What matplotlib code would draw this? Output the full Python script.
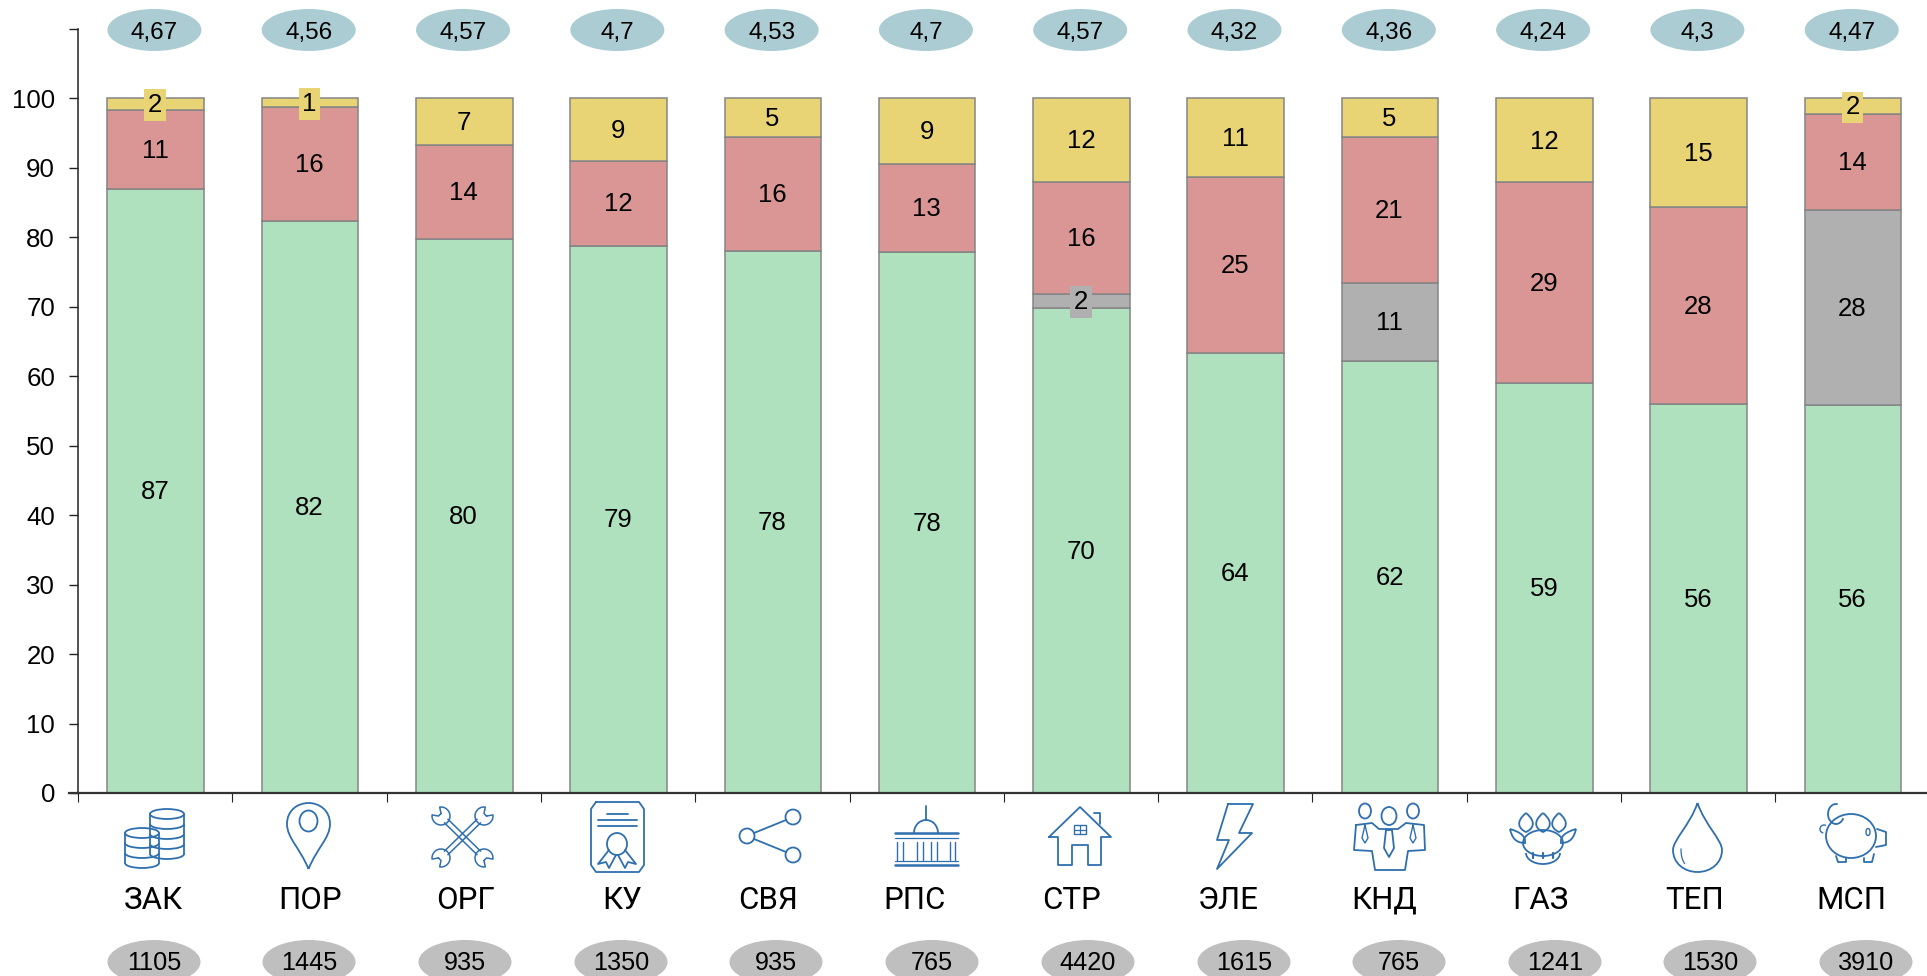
import numpy as np
import matplotlib
matplotlib.use("Agg")
import matplotlib.pyplot as plt
from matplotlib.patches import Ellipse, PathPatch, Polygon, Arc
from matplotlib.path import Path

plt.rcParams['font.family'] = ['Liberation Sans', 'DejaVu Sans']

# -----------------------------
# Data
# -----------------------------
categories = ["ЗАК", "ПОР", "ОРГ", "КУ", "СВЯ", "РПС", "СТР", "ЭЛЕ", "КНД", "ГАЗ", "ТЕП", "МСП"]

green = [86.9, 82.3, 79.8, 78.8, 78.1, 77.9, 69.8, 63.4, 62.2, 59.0, 56.0, 55.8]
gray = [0, 0, 0, 0, 0, 0, 2.1, 0, 11.3, 0, 0, 28.1]
red = [11.5, 16.4, 13.5, 12.2, 16.4, 12.7, 16.1, 25.3, 21.0, 28.9, 28.3, 13.9]
yellow = [1.6, 1.3, 6.7, 9.0, 5.5, 9.4, 12.0, 11.3, 5.5, 12.1, 15.7, 2.2]

green_labels = [87, 82, 80, 79, 78, 78, 70, 64, 62, 59, 56, 56]
gray_labels = [0, 0, 0, 0, 0, 0, 2, 0, 11, 0, 0, 28]
red_labels = [11, 16, 14, 12, 16, 13, 16, 25, 21, 29, 28, 14]
yellow_labels = [2, 1, 7, 9, 5, 9, 12, 11, 5, 12, 15, 2]

scores = ["4,67", "4,56", "4,57", "4,7", "4,53", "4,7", "4,57", "4,32", "4,36", "4,24", "4,3", "4,47"]
counts = ["1105", "1445", "935", "1350", "935", "765", "4420", "1615", "765", "1241", "1530", "3910"]

# pixel centres, these do not follow the bars exactly
label_x = [153.5, 310, 466, 622, 768, 915, 1072, 1228, 1384, 1540, 1695, 1851]
count_x = [154, 309, 465, 621, 776, 932, 1088, 1244, 1399, 1555, 1710, 1866]

GREEN = "#AFE1BE"
GRAY = "#B0B0B0"
RED = "#DA9595"
YELLOW = "#E8D475"
EDGE = "#858585"
ICON = "#2F6FAE"

# -----------------------------
# Figure
# -----------------------------
W, H = 1927, 976
fig = plt.figure(figsize=(W / 100, H / 100), dpi=100)
ax = fig.add_axes([78 / W, (H - 793) / H, 154.3 * 12 / W, 764 / H])

x = np.arange(12) + 0.503
bottom = np.zeros(12)
for values, labels, color in [(green, green_labels, GREEN), (gray, gray_labels, GRAY),
                              (red, red_labels, RED), (yellow, yellow_labels, YELLOW)]:
    values = np.array(values, dtype=float)
    keep = values > 0
    ax.bar(x[keep], values[keep], 0.626, bottom=bottom[keep], color=color,
           edgecolor=EDGE, linewidth=1.1, zorder=2)
    for xi, b, v, lab in zip(x, bottom, values, labels):
        if v <= 0:
            continue
        box = None
        if v < 3:
            box = dict(facecolor=color, edgecolor="none", pad=2.6)
        ax.text(xi - 0.003, b + v / 2 - 0.15, str(lab), ha="center", va="center",
                fontsize=18.5, color="black", bbox=box, zorder=4)
    bottom = bottom + values

ax.set_xlim(0, 12)
ax.set_ylim(0, 110)
ax.set_yticks(np.arange(0, 101, 10).tolist() + [110])
ax.set_yticklabels([str(v) for v in range(0, 101, 10)] + [""], fontsize=18.6)
ax.set_xticks(np.arange(0, 13))
ax.set_xticklabels([])
ax.spines["top"].set_visible(False)
ax.spines["right"].set_visible(False)
ax.spines["left"].set_color("#222222")
ax.spines["left"].set_linewidth(1.1)
ax.spines["bottom"].set_color("#333333")
ax.spines["bottom"].set_linewidth(1.6)
ax.tick_params(axis="y", length=6.5, width=1.0, color="#222222", pad=10)
ax.tick_params(axis="x", length=6.5, width=0.8, color="#222222")
ax.plot([-0.06, 0], [0, 0], color="#333333", lw=1.6, clip_on=False, zorder=3)

# -----------------------------
# Overlay in pixel coordinates
# -----------------------------
ov = fig.add_axes([0, 0, 1, 1], facecolor="none")
ov.set_xlim(0, W)
ov.set_ylim(H, 0)
ov.axis("off")

for xi, s in zip(x, scores):
    cx = 78 + xi * 154.3 - 1.2
    ov.add_patch(Ellipse((cx, 30), 94, 42, facecolor="#AACCD2", edgecolor="none"))
    ov.text(cx, 31, s, ha="center", va="center_baseline", fontsize=17.5)

for cx, lab, c, n in zip(label_x, categories, count_x, counts):
    ov.text(cx, 909, lab, ha="center", va="baseline", fontsize=22.5, family=["Roboto", "DejaVu Sans"])
    ov.add_patch(Ellipse((c, 962), 93, 44, facecolor="#BFBFBF", edgecolor="none"))
    ov.text(c, 961, n, ha="center", va="center_baseline", fontsize=18.2)

# -----------------------------
# Icons
# -----------------------------
LW = 1.3


def line(points, lw=LW, closed=False):
    pts = list(points)
    if closed:
        pts.append(pts[0])
    xs, ys = zip(*pts)
    ov.plot(xs, ys, color=ICON, lw=lw, solid_capstyle="round", solid_joinstyle="round", zorder=3)


def oval(cx, cy, w, h, lw=LW):
    ov.add_patch(Ellipse((cx, cy), w, h, fill=False, edgecolor=ICON, lw=lw, zorder=3))


def arc(cx, cy, w, h, a1, a2, lw=LW):
    ov.add_patch(Arc((cx, cy), w, h, theta1=a1, theta2=a2, edgecolor=ICON, lw=lw, zorder=3))


def curve(verts, lw=LW):
    # first point, then cubic bezier triples
    codes = [Path.MOVETO] + [Path.CURVE4] * (len(verts) - 1)
    ov.add_patch(PathPatch(Path(verts, codes), fill=False, edgecolor=ICON, lw=lw, zorder=3))


def coins(x0, y0, w, n, step):
    oval(x0 + w / 2, y0 + 5, w, 10)
    line([(x0, y0 + 5), (x0, y0 + 5 + n * step)])
    line([(x0 + w, y0 + 5), (x0 + w, y0 + 5 + n * step)])
    for i in range(1, n + 1):
        arc(x0 + w / 2, y0 + 5 + i * step, w, 10, 0, 180)


def wrench(x1, y1, x2, y2, r=9):
    # open ended spanner from one head centre to the other
    d = np.array([x2 - x1, y2 - y1], dtype=float)
    d = d / np.hypot(*d)
    n = np.array([-d[1], d[0]])
    a = np.array([x1, y1]) + d * r * 0.8
    b = np.array([x2, y2]) - d * r * 0.8
    line([a + n * 2.5, b + n * 2.5], lw=1.1)
    line([a - n * 2.5, b - n * 2.5], lw=1.1)
    for c, out in ((np.array([x1, y1]), -d), (np.array([x2, y2]), d)):
        a0 = np.arctan2(out[1], out[0])
        t = a0 + np.linspace(0.65, 2 * np.pi - 0.65, 30)
        pts = [c + r * np.array([np.cos(v), np.sin(v)]) for v in t]
        jaw = [c + 2.5 * np.array([np.cos(a0 - 0.8), np.sin(a0 - 0.8)]),
               c + 2.5 * np.array([np.cos(a0 + 0.8), np.sin(a0 + 0.8)])]
        line([jaw[1]] + pts + [jaw[0]], lw=1.1, closed=True)


# ЗАК
coins(150, 809, 34, 4, 10)
ov.add_patch(Polygon([(124, 832), (160, 832), (160, 860), (142, 867), (124, 860)],
                     facecolor="white", edgecolor="none", zorder=2.9))
coins(125, 828, 34, 3, 10)

# ПОР
curve([(308.5, 869), (300, 848), (287, 838), (287, 824), (287, 810), (298, 803), (308.5, 803),
       (319, 803), (330, 810), (330, 824), (330, 838), (317, 848), (308.5, 869)])
oval(308.5, 821, 18, 21)

# ОРГ
wrench(441, 816, 484, 858)
wrench(484, 816, 441, 858)

# КУ
line([(596, 802), (639, 802), (644, 809), (644, 865), (639, 872), (596, 872), (591, 865), (591, 809)],
     closed=True)
line([(607, 814), (628, 814)])
line([(598, 820), (637, 820)])
line([(598, 826), (637, 826)])
oval(617, 844, 20, 22)
line([(609, 850), (598, 864), (606, 862), (609, 868), (616, 855)])
line([(625, 850), (636, 864), (628, 862), (625, 868), (618, 855)])

# СВЯ
oval(747, 836, 15, 15)
oval(793, 817, 15, 15)
oval(793, 855, 15, 15)
line([(754, 833), (786, 820)])
line([(754, 839), (786, 852)])

# РПС
line([(926, 806), (926, 820)])
arc(926, 833, 24, 26, 180, 360)
line([(895, 833), (958, 833)], lw=1.8)
line([(895, 838), (958, 838)], lw=0.9)
for cx in (897, 903, 917, 923, 931, 937, 950, 955):
    line([(cx, 842), (cx, 860)], lw=1.0)
line([(895, 861), (958, 861)], lw=0.9)
line([(895, 865), (958, 865)], lw=1.8)

# СТР
line([(1049, 837), (1080, 807), (1111, 837), (1101, 837), (1101, 865), (1088, 865), (1088, 845),
      (1072, 845), (1072, 865), (1058, 865), (1058, 837)], closed=True)
line([(1094, 813), (1100, 813), (1100, 824)])
ov.add_patch(Polygon([(1074, 825), (1086, 825), (1086, 834), (1074, 834)], fill=False, edgecolor=ICON, lw=1.0))
line([(1080, 825), (1080, 834)], lw=0.9)
line([(1074, 829.5), (1086, 829.5)], lw=0.9)

# ЭЛЕ
line([(1228, 804), (1253, 804), (1239, 833), (1252, 833), (1217, 869), (1229, 840), (1217, 840)],
     closed=True)

# КНД
oval(1365, 811, 12, 15)
oval(1389, 816, 15, 18)
oval(1413, 811, 12, 15)
line([(1356, 825), (1372, 823), (1379, 829), (1398, 829), (1406, 823), (1424, 825), (1425, 850),
      (1408, 851), (1405, 870), (1375, 870), (1372, 851), (1354, 850)], closed=True)
line([(1386, 830), (1392, 830), (1394, 848), (1389, 857), (1384, 848)], closed=True)
line([(1365, 825), (1368, 838), (1365, 843), (1362, 838)], closed=True, lw=1.0)
line([(1413, 825), (1416, 838), (1413, 843), (1410, 838)], closed=True, lw=1.0)

# ГАЗ
oval(1543, 843, 40, 26)
arc(1543, 853, 34, 22, 0, 180)
for cx in (1526, 1543, 1559):
    curve([(cx, 813), (cx - 11, 822), (cx - 7, 829), (cx, 832),
           (cx + 7, 829), (cx + 11, 822), (cx, 813)])
curve([(1510, 829), (1512, 838), (1516, 843), (1525, 843), (1526, 836), (1520, 832), (1510, 829)])
curve([(1576, 829), (1574, 838), (1570, 843), (1561, 843), (1560, 836), (1566, 832), (1576, 829)])
for cx in (1533, 1543, 1553):
    line([(cx, 853), (cx, 858)], lw=1.6)

# ТЕП
curve([(1697.5, 803), (1690, 825), (1673, 840), (1673, 850), (1673, 863), (1684, 872), (1697.5, 872),
       (1711, 872), (1722, 863), (1722, 850), (1722, 840), (1705, 825), (1697.5, 803)])
arc(1690, 850, 18, 34, 110, 190, lw=0.9)

# МСП
oval(1851, 836, 50, 44)
line([(1877, 829), (1886, 832), (1886, 845), (1876, 847)])
oval(1868, 832, 4, 7, lw=1.0)
arc(1836, 814, 16, 20, 30, 280)
line([(1836, 856), (1838, 862), (1846, 862), (1846, 858)])
line([(1864, 858), (1864, 862), (1872, 862), (1874, 854)])
arc(1824, 829, 8, 8, 100, 300, lw=1.0)

fig.savefig("out.png", dpi=100)
